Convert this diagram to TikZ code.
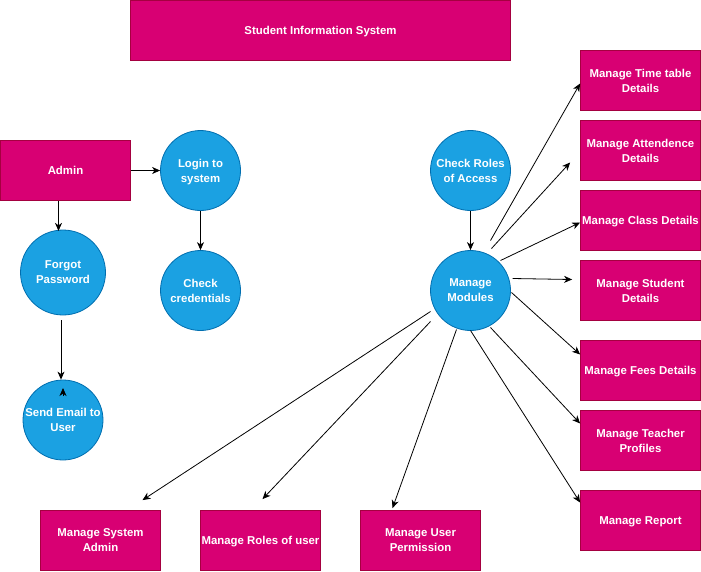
\documentclass[tikz,border=0pt]{standalone}
\usepackage{fontspec}
\setmainfont{Liberation Sans}
\usetikzlibrary{arrows.meta,calc}
\definecolor{pinkfill}{HTML}{D80073}
\definecolor{pinkline}{HTML}{A50040}
\definecolor{bluefill}{HTML}{1BA1E2}
\definecolor{blueline}{HTML}{006EAF}
\begin{document}
\begin{tikzpicture}[x=1pt,y=-1pt,
  txt/.style={text=white,font=\fontsize{11.4}{15}\selectfont\bfseries,align=center,inner sep=0pt,text depth=0pt},
  box/.style={txt,rectangle,draw=pinkline,fill=pinkfill,line width=0.8pt,minimum width=120pt,minimum height=60pt},
  proc/.style={txt,circle,draw=blueline,fill=bluefill,line width=0.8pt,minimum size=80pt},
  arr/.style={-{Stealth[length=8pt,width=7pt,inset=2.4pt]},line width=0.8pt,black}]
\useasboundingbox (0,0) rectangle (701,571);
% title
\node[box,minimum width=380pt] (title) at (320.5,30.5) {Student Information System};
% left part
\node[box,minimum width=130pt] (admin) at (65.5,170.5) {Admin};
\node[proc] (login) at (200.5,170.5) {Login to\\system};
\node[proc] (cred) at (200.5,290.5) {Check\\credentials};
\node[proc,minimum size=85pt] (forgot) at (63,272.5) {Forgot\\Password};
\node[proc] (email) at (63,420) {Send Email to\\User};
% centre
\node[proc] (roles) at (470.5,170.5) {Check Roles\\of Access};
\node[proc] (mm) at (470.5,290.5) {Manage\\Modules};
% right column
\node[box] (tt) at (640.5,80.5) {Manage Time table\\Details};
\node[box] (ad) at (640.5,150.5) {Manage Attendence\\Details};
\node[box] (cd) at (640.5,220.5) {Manage Class Details};
\node[box] (sd) at (640.5,290.5) {Manage Student\\Details};
\node[box] (fd) at (640.5,370.5) {Manage Fees Details};
\node[box] (tp) at (640.5,440.5) {Manage Teacher\\Profiles};
\node[box] (mr) at (640.5,520.5) {Manage Report};
% bottom row
\node[box] (sa) at (100.5,540.5) {Manage System\\Admin};
\node[box] (ru) at (260.5,540.5) {Manage Roles of user};
\node[box] (up) at (420.5,540.5) {Manage User\\Permission};
% left connectors
\draw[arr] (admin.east) -- (login.west);
\draw[arr] ($(admin.south)+(-7,0)$) -- ($(admin.south)+(-7,30)$);
\draw[arr] (login.south) -- (cred.north);
\draw[arr] ($(forgot.south)+(-2,5)$) -- ($(email.north)+(-2,0)$);
\draw[arr] ($(email)+(0,-24)$) -- ($(email)+(0,-32)$);
\draw[arr] (roles.south) -- (mm.north);
% module connectors
\draw[arr] ($(mm)+(20,-50)$) -- ($(tt.west)+(0,3)$);
\draw[arr] ($(mm)+(21,-42)$) -- ($(ad.west)+(-10,12)$);
\draw[arr] ($(mm)+(30,-30)$) -- ($(cd.west)+(0,2)$);
\draw[arr] ($(mm)+(42,-12)$) -- ($(sd.west)+(-8,-11)$);
\draw[arr] ($(mm)+(41,2)$) -- ($(fd.west)+(0,-16)$);
\draw[arr] ($(mm)+(20,37)$) -- ($(tp.west)+(0,-17)$);
\draw[arr] ($(mm)+(0,40)$) -- ($(mr.west)+(0,-18)$);
\draw[arr] ($(mm)+(-40,21)$) -- ($(sa.north)+(42,-10)$);
\draw[arr] ($(mm)+(-40,31)$) -- ($(ru.north)+(2,-11)$);
\draw[arr] ($(mm)+(-14,39)$) -- ($(up.north)+(-28,-2)$);
\end{tikzpicture}
\end{document}
